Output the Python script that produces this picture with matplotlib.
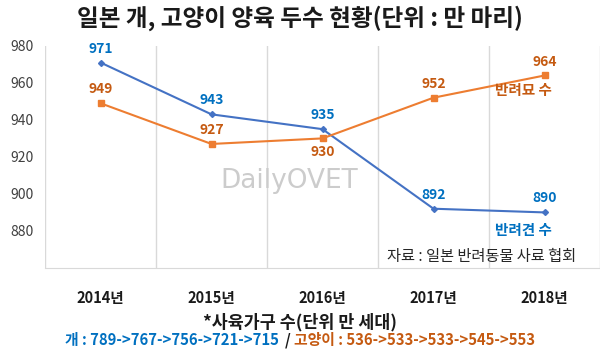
import numpy as np
import matplotlib.pyplot as plt

plt.rcParams['font.family'] = ['Noto Sans CJK KR', 'DejaVu Sans']

years = ['2014년', '2015년', '2016년', '2017년', '2018년']
dogs = [971, 943, 935, 892, 890]
cats = [949, 927, 930, 952, 964]
# label placement: +1 above the point, -1 below
cat_label_side = [1, 1, -1, 1, 1]
dog_households = '789->767->756->721->715'
cat_households = '536->533->533->545->553'

BLUE_LINE = '#4472C4'
BLUE_TEXT = '#0070C0'
ORANGE_LINE = '#ED7D31'
ORANGE_TEXT = '#C55A11'
GRID = '#D9D9D9'

fig = plt.figure(figsize=(6.0, 3.53), dpi=100)
ax = fig.add_axes([0.075, 0.241, 0.925, 0.629])

x = np.arange(len(years))
ax.plot(x, dogs, color=BLUE_LINE, lw=1.5, marker='D', ms=3, zorder=3)
ax.plot(x, cats, color=ORANGE_LINE, lw=1.5, marker='s', ms=4, zorder=3)

for xi, v in zip(x, dogs):
    ax.annotate(str(v), (xi, v), xytext=(0, 5), textcoords='offset points',
                ha='center', va='bottom', color=BLUE_TEXT, fontsize=10, fontweight='bold')
for xi, v, side in zip(x, cats, cat_label_side):
    ax.annotate(str(v), (xi, v), xytext=(0, 5 * side), textcoords='offset points',
                ha='center', va='bottom' if side > 0 else 'top',
                color=ORANGE_TEXT, fontsize=10, fontweight='bold')

# series names next to the last points
ax.annotate('반려묘 수', (x[-1], cats[-1]), xytext=(-15, -5), textcoords='offset points',
            ha='center', va='top', color=ORANGE_TEXT, fontsize=10.5, fontweight='bold')
ax.annotate('반려견 수', (x[-1], dogs[-1]), xytext=(-15, -7), textcoords='offset points',
            ha='center', va='top', color=BLUE_TEXT, fontsize=10.5, fontweight='bold')
ax.text(0.787, 0.05, '자료 : 일본 반려동물 사료 협회', transform=ax.transAxes,
        ha='center', va='center', fontsize=11, color='#262626')

# watermark
ax.text(0.44, 0.39, 'DailyOVET', transform=ax.transAxes, ha='center', va='center',
        fontsize=19, color='#CCCCCC', family='DejaVu Sans', zorder=1)

ax.set_xlim(-0.5, len(years) - 0.5)
ax.set_ylim(860, 980)
ax.set_yticks(np.arange(880, 981, 20))
ax.tick_params(axis='y', length=0, labelsize=10, labelcolor='#404040', pad=8)
ax.set_xticks(x)
ax.set_xticklabels(years, fontweight='bold', fontsize=10.5)
ax.tick_params(axis='x', length=0, pad=16, labelcolor='#1a1a1a')

for b in np.arange(-0.5, len(years), 1.0):
    ax.axvline(b, color=GRID, lw=1, zorder=0)
for side in ['left', 'right', 'top']:
    ax.spines[side].set_visible(False)
ax.spines['bottom'].set_color(GRID)

fig.text(0.5, 0.948, '일본 개, 고양이 양육 두수 현황(단위 : 만 마리)', ha='center', va='center',
         fontsize=17, fontweight='bold', color='#1a1a1a')
fig.text(0.5, 0.088, '*사육가구 수(단위 만 세대)', ha='center', va='center',
         fontsize=12.5, fontweight='bold', color='#1a1a1a')

# colored summary line, pieces laid out one after another
renderer = fig.canvas.get_renderer()
parts = [('개 : ' + dog_households + '  ', BLUE_TEXT), ('/ ', '#1a1a1a'),
         ('고양이 : ' + cat_households, ORANGE_TEXT)]
texts = []
for s, c in parts:
    t = fig.text(0, 0.036, s, ha='left', va='center', fontsize=10.7, fontweight='bold', color=c)
    texts.append(t)
widths = [t.get_window_extent(renderer).width / fig.bbox.width for t in texts]
start = 0.5 - sum(widths) / 2
for t, w in zip(texts, widths):
    t.set_x(start)
    start += w

fig.savefig('out.png', dpi=100)
